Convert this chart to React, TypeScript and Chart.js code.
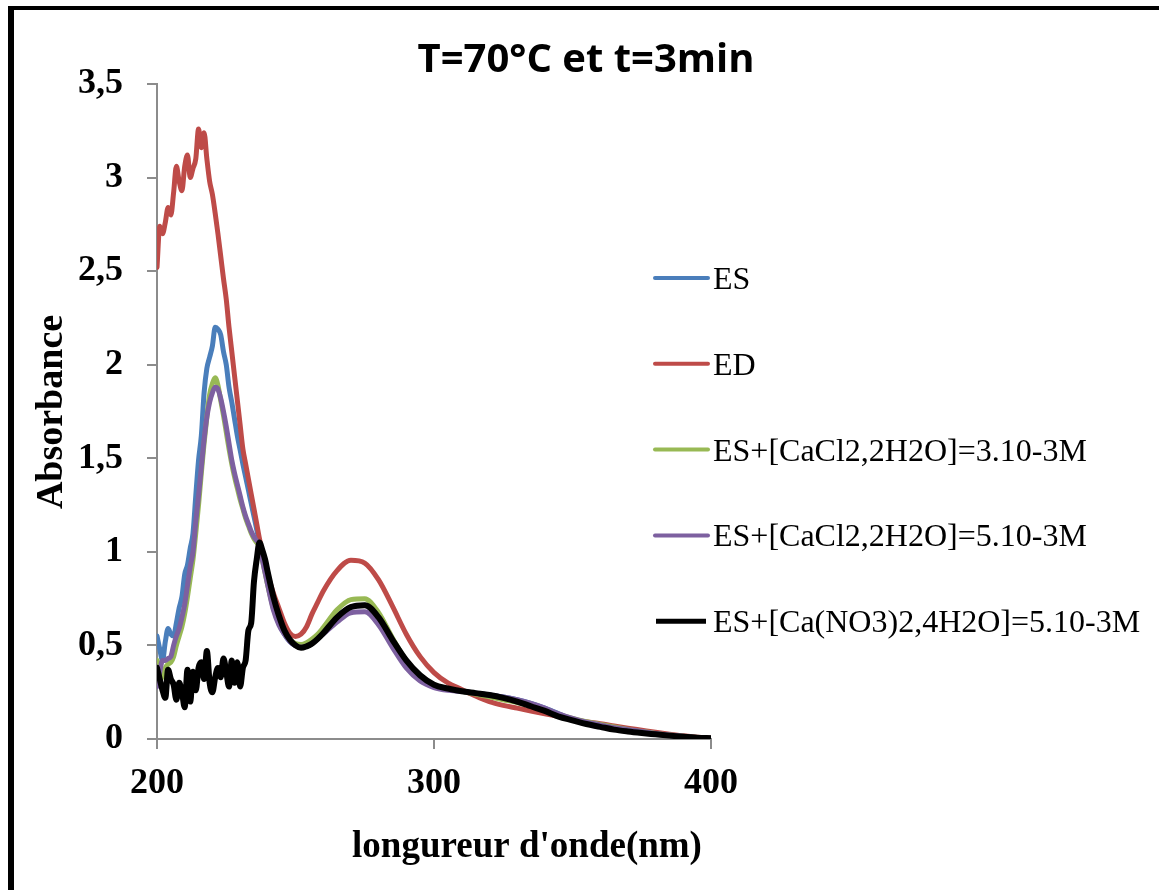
import { useEffect, useRef } from "react";
import { Chart, registerables } from "chart.js";

Chart.register(...registerables);

// Wavelength grid (nm)
const wavelengths = [
  200, 201, 202, 203, 204, 205, 206, 207, 208, 209,
  210, 211, 212, 213, 214, 215, 216, 217, 218, 219,
  220, 221, 222, 223, 224, 225, 226, 227, 228, 229,
  230, 231, 232, 233, 234, 235, 236, 237, 238, 239, 240,
  242, 244, 246, 248, 250, 252, 254, 256, 258, 260,
  265, 270, 275, 280, 285, 290, 295, 300, 305, 310,
  315, 320, 325, 330, 335, 340, 345, 350, 355, 360,
  365, 370, 375, 380, 385, 390, 395, 400,
];

const absES = [
  0.55, 0.48, 0.42, 0.52, 0.59, 0.56, 0.55, 0.62, 0.70, 0.76,
  0.88, 0.93, 1.02, 1.10, 1.30, 1.49, 1.62, 1.85, 1.98, 2.04,
  2.10, 2.20, 2.19, 2.16, 2.07, 2.00, 1.88, 1.80, 1.71, 1.62,
  1.545, 1.47, 1.40, 1.33, 1.26, 1.19, 1.12, 1.05, 0.98, 0.91, 0.84,
  0.71, 0.62, 0.56, 0.52, 0.50, 0.495, 0.50, 0.52, 0.545, 0.58,
  0.655, 0.705, 0.715, 0.645, 0.52, 0.41, 0.33, 0.285, 0.265, 0.255,
  0.245, 0.235, 0.225, 0.21, 0.19, 0.165, 0.135, 0.105, 0.085, 0.07,
  0.055, 0.045, 0.035, 0.027, 0.019, 0.012, 0.007, 0.004,
];

const absED = [
  2.52, 2.74, 2.70, 2.76, 2.84, 2.80, 2.92, 3.06, 2.98, 2.93,
  3.06, 3.12, 3.00, 3.05, 3.10, 3.26, 3.16, 3.24, 3.10, 2.98,
  2.91, 2.81, 2.70, 2.58, 2.46, 2.35, 2.20, 2.07, 1.94, 1.81,
  1.68, 1.55, 1.47, 1.39, 1.31, 1.23, 1.15, 1.07, 1.00, 0.94, 0.88,
  0.78, 0.70, 0.62, 0.565, 0.548, 0.56, 0.60, 0.67, 0.73, 0.79,
  0.90, 0.955, 0.94, 0.85, 0.71, 0.56, 0.44, 0.355, 0.30, 0.265,
  0.23, 0.20, 0.18, 0.165, 0.15, 0.135, 0.12, 0.105, 0.092, 0.082,
  0.07, 0.058, 0.047, 0.036, 0.026, 0.017, 0.01, 0.005,
];

const absCaCl3 = [
  0.42, 0.38, 0.33, 0.38, 0.40, 0.41, 0.44, 0.50, 0.55, 0.60,
  0.67, 0.76, 0.86, 0.96, 1.10, 1.25, 1.42, 1.58, 1.72, 1.84,
  1.90, 1.93, 1.89, 1.81, 1.73, 1.64, 1.55, 1.47, 1.40, 1.34,
  1.28, 1.23, 1.18, 1.14, 1.10, 1.07, 1.05, 1.03, 0.96, 0.89, 0.82,
  0.70, 0.62, 0.565, 0.53, 0.51, 0.505, 0.515, 0.535, 0.56, 0.595,
  0.69, 0.745, 0.75, 0.675, 0.54, 0.42, 0.34, 0.29, 0.27, 0.255,
  0.24, 0.225, 0.21, 0.195, 0.178, 0.158, 0.132, 0.11, 0.092, 0.078,
  0.064, 0.051, 0.04, 0.03, 0.022, 0.015, 0.008, 0.004,
];

const absCaCl5 = [
  0.28, 0.36, 0.42, 0.42, 0.43, 0.44, 0.50, 0.55, 0.59, 0.65,
  0.72, 0.82, 0.92, 1.00, 1.16, 1.30, 1.45, 1.60, 1.72, 1.80,
  1.85, 1.88, 1.87, 1.82, 1.75, 1.67, 1.58, 1.49, 1.42, 1.36,
  1.30, 1.24, 1.19, 1.15, 1.11, 1.08, 1.06, 1.04, 0.96, 0.89, 0.82,
  0.69, 0.61, 0.56, 0.52, 0.50, 0.49, 0.495, 0.51, 0.535, 0.56,
  0.625, 0.675, 0.68, 0.61, 0.49, 0.38, 0.31, 0.275, 0.26, 0.255,
  0.245, 0.235, 0.225, 0.21, 0.19, 0.165, 0.135, 0.11, 0.09, 0.075,
  0.06, 0.05, 0.04, 0.03, 0.022, 0.015, 0.008, 0.004,
];

const absCaNO3 = [
  0.38, 0.32, 0.26, 0.22, 0.37, 0.32, 0.29, 0.21, 0.30, 0.25,
  0.17, 0.37, 0.20, 0.36, 0.26, 0.38, 0.41, 0.32, 0.47, 0.30,
  0.25, 0.33, 0.38, 0.33, 0.43, 0.36, 0.28, 0.42, 0.30, 0.41,
  0.28, 0.38, 0.42, 0.58, 0.62, 0.84, 0.96, 1.05, 1.01, 0.96, 0.89,
  0.76, 0.66, 0.58, 0.53, 0.50, 0.487, 0.495, 0.51, 0.535, 0.565,
  0.65, 0.705, 0.715, 0.65, 0.53, 0.42, 0.34, 0.29, 0.27, 0.255,
  0.245, 0.235, 0.22, 0.20, 0.175, 0.15, 0.12, 0.10, 0.08, 0.065,
  0.05, 0.04, 0.032, 0.025, 0.018, 0.012, 0.007, 0.004,
];

const seriesLabels = [
  "ES",
  "ED",
  "ES+[CaCl2,2H2O]=3.10-3M",
  "ES+[CaCl2,2H2O]=5.10-3M",
  "ES+[Ca(NO3)2,4H2O]=5.10-3M",
];
const seriesValues = [absES, absED, absCaCl3, absCaCl5, absCaNO3];
const seriesColors = ["#4A7EBB", "#BE4B48", "#98B954", "#7D60A0", "#000000"];
const seriesWidths = [5, 5, 5, 5, 6];

const xTickValues = [200, 300, 400];
const yTickLabels = ["0", "0,5", "1", "1,5", "2", "2,5", "3", "3,5"];

const chartTitle = "T=70°C et t=3min";
const xAxisTitle = "longureur d'onde(nm)";
const yAxisTitle = "Absorbance";

const serif = '"Liberation Serif", "Times New Roman", serif';

const decorPlugin = {
  id: "decor",
  afterDraw(chart: any) {
    const ctx = chart.ctx as CanvasRenderingContext2D;
    ctx.save();
    ctx.fillStyle = "#000";
    // Title
    ctx.font = 'bold 40px "Open Sans", sans-serif';
    ctx.textAlign = "center";
    ctx.textBaseline = "alphabetic";
    ctx.fillText(chartTitle, 586, 72);
    // X axis title
    ctx.font = `bold 37px ${serif}`;
    ctx.fillText(xAxisTitle, 527, 857);
    // Y axis title
    ctx.save();
    ctx.translate(62, 412);
    ctx.rotate(-Math.PI / 2);
    ctx.font = `bold 38px ${serif}`;
    ctx.fillText(yAxisTitle, 0, 0);
    ctx.restore();
    // Legend
    ctx.textAlign = "left";
    ctx.font = `32px ${serif}`;
    seriesLabels.forEach((label, i) => {
      const y = 278 + i * 85.8;
      ctx.beginPath();
      ctx.strokeStyle = seriesColors[i];
      ctx.lineWidth = i === 4 ? 5 : 4;
      ctx.lineCap = i === 4 ? "butt" : "round";
      ctx.moveTo(i === 4 ? 656 : 655, y);
      ctx.lineTo(i === 4 ? 706 : 708, y);
      ctx.stroke();
      ctx.fillStyle = "#000";
      ctx.fillText(label, 713, y + 11);
    });
    ctx.restore();
  },
};

export default function App() {
  const ref = useRef<HTMLCanvasElement>(null);
  useEffect(() => {
    const order = [5, 4, 3, 2, 1];
    const chart = new Chart(ref.current as HTMLCanvasElement, {
      type: "line",
      data: {
        datasets: seriesLabels.map((label, i) => ({
          label,
          data: wavelengths.map((w, j) => ({ x: w, y: seriesValues[i][j] })),
          borderColor: seriesColors[i],
          backgroundColor: seriesColors[i],
          borderWidth: seriesWidths[i],
          pointRadius: 0,
          fill: false,
          cubicInterpolationMode: "monotone",
          borderCapStyle: "round",
          borderJoinStyle: "round",
          order: order[i],
        })),
      },
      options: {
        responsive: false,
        animation: false,
        events: [],
        layout: { padding: { left: 20, top: 84, right: 448, bottom: 0 } },
        plugins: {
          legend: { display: false },
          title: { display: false },
          tooltip: { enabled: false },
        },
        scales: {
          x: {
            type: "linear",
            min: 200,
            max: 400,
            afterBuildTicks: (s: any) => {
              s.ticks = xTickValues.map((v) => ({ value: v }));
            },
            ticks: {
              color: "#000",
              font: { family: serif, size: 36, weight: "bold" },
              padding: 13,
              maxRotation: 0,
              autoSkip: false,
              callback: (v: any) => String(v),
            },
            grid: {
              drawOnChartArea: false,
              drawTicks: true,
              tickLength: 10,
              color: "#8c8c8c",
              lineWidth: 2,
            },
            border: { display: true, color: "#8c8c8c", width: 2 },
            afterFit: (s: any) => {
              s.height = 151;
              s.paddingLeft = 0;
              s.paddingRight = 0;
            },
          },
          y: {
            type: "linear",
            min: 0,
            max: 3.5,
            ticks: {
              stepSize: 0.5,
              color: "#000",
              font: { family: serif, size: 36, weight: "bold" },
              padding: 24,
              callback: (_v: any, i: number) => yTickLabels[i],
            },
            grid: {
              drawOnChartArea: false,
              drawTicks: true,
              tickLength: 10,
              color: "#8c8c8c",
              lineWidth: 2,
            },
            border: { display: true, color: "#8c8c8c", width: 2 },
            afterFit: (s: any) => {
              s.width = 137;
              s.paddingTop = 0;
              s.paddingBottom = 0;
            },
          },
        },
      },
      plugins: [decorPlugin],
    } as any);
    return () => chart.destroy();
  }, []);

  return (
    <div
      style={{
        position: "absolute",
        left: 0,
        top: 0,
        width: 1159,
        height: 890,
        background: "#fff",
        overflow: "hidden",
      }}
    >
      <canvas
        ref={ref}
        width={1159}
        height={890}
        style={{ position: "absolute", left: 0, top: 0, width: 1159, height: 890 }}
      />
      <div style={{ position: "absolute", left: 8, top: 6, right: 0, height: 4, background: "#000" }} />
      <div style={{ position: "absolute", left: 8, top: 6, bottom: 0, width: 6, background: "#000" }} />
    </div>
  );
}
